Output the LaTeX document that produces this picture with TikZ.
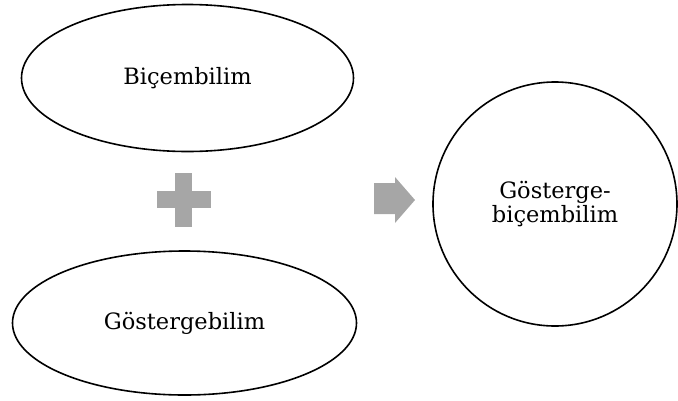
\documentclass[tikz,border=0pt]{standalone}
\usepackage{fontspec}
\setmainfont{DejaVu Serif}
\usetikzlibrary{shapes.geometric}
\definecolor{markgray}{HTML}{A6A6A6}
\tikzset{
  term/.style={draw, line width=1.6pt, ellipse, inner sep=0pt, font=\fontsize{22.5}{25}\selectfont},
  result/.style={draw, line width=1.6pt, circle, inner sep=0pt, align=center, font=\fontsize{22.5}{24}\selectfont}
}
\begin{document}
\begin{tikzpicture}[x=1pt, y=-1pt]
\useasboundingbox (0,0) rectangle (678,400);
\node[term, minimum width=332, minimum height=147] (bicem) at (187.5,78) {Biçembilim};
\node[term, minimum width=344, minimum height=144] (gosterge) at (184.5,323) {Göstergebilim};
\node[result, minimum size=244] (sonuc) at (555,204) {Gösterge-\\biçembilim};
% plus and arrow marks
\fill[markgray] (175,173) rectangle (192,227);
\fill[markgray] (157,191) rectangle (211,208);
\fill[markgray] (374,183) -- (395,183) -- (395,177) -- (415,200) -- (395,223) -- (395,214) -- (374,214) -- cycle;
\end{tikzpicture}
\end{document}
